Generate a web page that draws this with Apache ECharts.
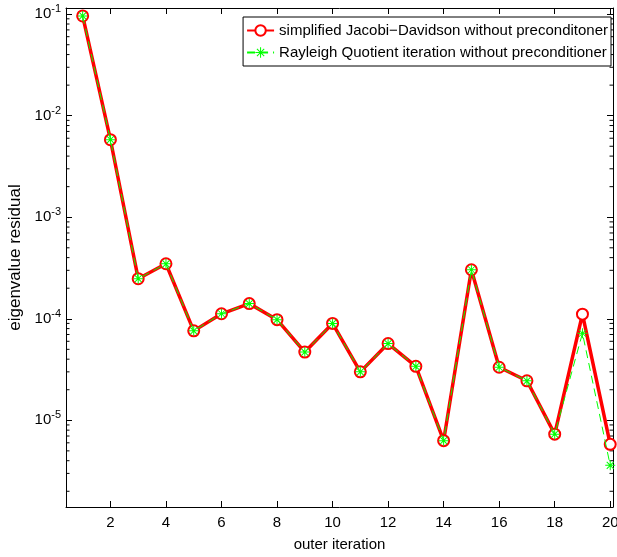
<!DOCTYPE html>
<html>
<head>
<meta charset="utf-8">
<script src="https://cdn.jsdelivr.net/npm/echarts@6/dist/echarts.min.js"></script>
<style>
  html, body { margin: 0; padding: 0; background: #fff; }
  #chart { width: 617px; height: 557px; }
</style>
</head>
<body>
<div id="chart"></div>
<script>
// outer iteration numbers
var iterations = [1, 2, 3, 4, 5, 6, 7, 8, 9, 10, 11, 12, 13, 14, 15, 16, 17, 18, 19, 20];
// residuals
var jdResidual = [0.096, 5.8e-3, 2.48e-4, 3.48e-4, 7.6e-5, 1.12e-4, 1.41e-4, 9.8e-5, 4.7e-5, 9.0e-5,
                  3.0e-5, 5.7e-5, 3.4e-5, 6.3e-6, 3.04e-4, 3.33e-5, 2.45e-5, 7.3e-6, 1.11e-4, 5.8e-6];
var rqiResidual = [0.096, 5.8e-3, 2.48e-4, 3.48e-4, 7.6e-5, 1.12e-4, 1.41e-4, 9.8e-5, 4.7e-5, 9.0e-5,
                   3.0e-5, 5.7e-5, 3.4e-5, 6.3e-6, 3.04e-4, 3.33e-5, 2.45e-5, 7.3e-6, 7.2e-5, 3.6e-6];
var seriesNames = ['simplified Jacobi\u2212Davidson without preconditoner',
                   'Rayleigh Quotient iteration without preconditioner'];
var xTicks = [2, 4, 6, 8, 10, 12, 14, 16, 18, 20];

var font = 'Liberation Sans';
var star = 'path://M0 9L20 9L20 11L0 11Z M9 0L11 0L11 20L9 20Z ' +
    'M2.3 3.7L3.7 2.3L17.7 16.3L16.3 17.7Z M16.3 2.3L17.7 3.7L3.7 17.7L2.3 16.3Z';

function pairs(ys) {
    return iterations.map(function (x, i) { return [x, ys[i]]; });
}

var chart = echarts.init(document.getElementById('chart'));

var axisBlack = { lineStyle: { color: '#000', width: 1 } };
var xRange = { min: 0.4, max: 20.1 };
var yRange = { min: 1.4e-6, max: 0.115 };

chart.setOption({
    animation: false,
    textStyle: { fontFamily: font },
    grid: { left: 66, top: 8, right: 4, bottom: 50, outerBoundsMode: 'none', containLabel: false },
    legend: {
        orient: 'vertical',
        right: 6,
        top: 17,
        padding: [6, 3, 6, 3],
        itemGap: 7,
        itemWidth: 27,
        itemHeight: 13,
        borderColor: '#000',
        borderWidth: 1,
        borderRadius: 0,
        backgroundColor: '#fff',
        textStyle: { fontFamily: font, fontSize: 15, color: '#000' },
        data: seriesNames
    },
    xAxis: [{
        type: 'value',
        min: xRange.min,
        max: xRange.max,
        splitNumber: 10,
        name: 'outer iteration',
        nameLocation: 'middle',
        nameGap: 30,
        nameTextStyle: { fontFamily: font, fontSize: 15, color: '#000' },
        axisLine: axisBlack,
        axisTick: { inside: true, length: 6, lineStyle: { color: '#000' } },
        axisLabel: {
            fontFamily: font, fontSize: 15, color: '#000', margin: 8,
            showMinLabel: false, showMaxLabel: true,
            formatter: function (v) { return xTicks.indexOf(v) >= 0 ? String(v) : ''; }
        },
        splitLine: { show: false }
    }, {
        type: 'value',
        position: 'top',
        min: xRange.min,
        max: xRange.max,
        splitNumber: 10,
        axisLine: axisBlack,
        axisTick: { inside: true, length: 6, lineStyle: { color: '#000' } },
        axisLabel: { show: false },
        splitLine: { show: false }
    }],
    yAxis: [{
        type: 'log',
        logBase: 10,
        min: yRange.min,
        max: yRange.max,
        splitNumber: 5,
        name: 'eigenvalue residual',
        nameLocation: 'middle',
        nameGap: 40,
        nameTextStyle: { fontFamily: font, fontSize: 17, color: '#000' },
        axisLine: axisBlack,
        axisTick: { inside: true, length: 6, lineStyle: { color: '#000' } },
        axisLabel: {
            showMinLabel: false, showMaxLabel: false,
            margin: 5,
            formatter: function (v) {
                var e = Math.round(Math.log10(v));
                if (Math.abs(Math.log10(v) - e) > 1e-6) return '';
                return '{b|10}{s|' + e + '}';
            },
            rich: {
                b: { fontFamily: font, fontSize: 15, color: '#000' },
                s: { fontFamily: font, fontSize: 11, color: '#000', padding: [0, 0, 10, 0] }
            }
        },
        splitLine: { show: false }
    }, {
        type: 'log',
        logBase: 10,
        min: yRange.min,
        max: yRange.max,
        splitNumber: 5,
        position: 'right',
        axisLine: axisBlack,
        axisTick: { inside: true, length: 6, lineStyle: { color: '#000' } },
        axisLabel: { show: false },
        splitLine: { show: false }
    }],
    series: [{
        name: seriesNames[0],
        type: 'line',
        data: pairs(jdResidual),
        symbol: 'emptyCircle',
        symbolSize: 11,
        color: '#ff0000',
        lineStyle: { color: '#ff0000', width: 3.5 },
        itemStyle: { color: '#ff0000', borderColor: '#ff0000', borderWidth: 3 },
        z: 2
    }, {
        name: seriesNames[1],
        type: 'line',
        data: pairs(rqiResidual),
        symbol: star,
        symbolSize: 10,
        color: '#00ff00',
        lineStyle: { color: '#00ff00', width: 1, type: [8, 5] },
        itemStyle: { color: '#00ff00', borderWidth: 0 },
        z: 3
    }]
});

// log minor ticks (2..9 in every decade) placed with the y axis scale
var minor = [];
var grid = chart.getModel().getComponent('grid').coordinateSystem.getRect();
for (var d = -6; d <= -1; d++) {
    for (var k = 2; k <= 9; k++) {
        var v = k * Math.pow(10, d);
        if (v < yRange.min || v > yRange.max) continue;
        var py = chart.convertToPixel({ yAxisIndex: 0 }, v);
        minor.push({ type: 'line', silent: true,
            shape: { x1: grid.x, y1: py, x2: grid.x + 3.5, y2: py },
            style: { stroke: '#000', lineWidth: 1 } });
        minor.push({ type: 'line', silent: true,
            shape: { x1: grid.x + grid.width - 3.5, y1: py, x2: grid.x + grid.width, y2: py },
            style: { stroke: '#000', lineWidth: 1 } });
    }
}
chart.setOption({ graphic: minor });
</script>
</body>
</html>
